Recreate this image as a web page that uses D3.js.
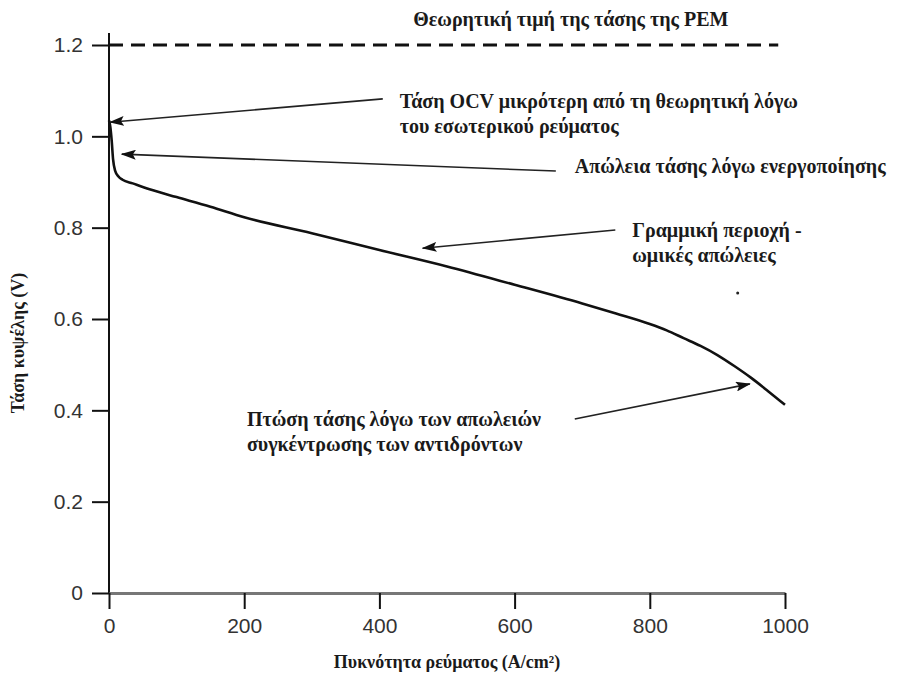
<!DOCTYPE html>
<html>
<head>
<meta charset="utf-8">
<script src="https://cdn.jsdelivr.net/npm/d3@7"></script>
<style>
  body { margin: 0; background: #fff; }
  svg { display: block; }
  .tick text { font-family: "Liberation Sans", Arial, sans-serif; font-size: 21px; fill: #333; }
  .note { font-family: "Liberation Serif", "Times New Roman", serif; font-weight: bold; font-size: 20px; fill: #1a1a1a; }
</style>
</head>
<body>
<svg id="chart" width="899" height="675"></svg>
<script>
// polarization curve
const current = [0, 2, 4, 6, 9, 14, 20, 35, 60, 100, 150, 200, 300, 400, 500, 600, 700, 750, 800, 825, 850, 875, 900, 925, 950, 975, 1000]
const voltage = [1.035, 1.02, 0.99, 0.95, 0.925, 0.912, 0.905, 0.897, 0.884, 0.867, 0.846, 0.823, 0.788, 0.751, 0.715, 0.675, 0.634, 0.612, 0.589, 0.575, 0.558, 0.541, 0.521, 0.497, 0.471, 0.442, 0.412]

const xTicks = [0, 200, 400, 600, 800, 1000]
const yTicks = [0, 0.2, 0.4, 0.6, 0.8, 1.0, 1.2]
const theoreticalVoltage = 1.2
const theoreticalEnd = 990

const xTitle = "Πυκνότητα ρεύματος (A/cm²)"
const yTitle = "Τάση κυψέλης (V)"

// annotations: text lines, text anchor (A/cm², V), arrow tail and tip (A/cm², V)
const noteLines = [
  ["Θεωρητική τιμή της τάσης της PEM"],
  ["Τάση OCV μικρότερη από τη θεωρητική λόγω", "του εσωτερικού ρεύματος"],
  ["Απώλεια τάσης λόγω ενεργοποίησης"],
  ["Γραμμική περιοχή -", "ωμικές απώλειες"],
  ["Πτώση τάσης λόγω των απωλειών", "συγκέντρωσης των αντιδρόντων"]
]
const noteAnchors = [[450, 1.241], [430, 1.062], [689, 0.920], [774, 0.780], [204, 0.366]]
const arrowTails = [null, [405, 1.082], [661, 0.924], [749, 0.795], [689, 0.381]]
const arrowTips = [null, [1.5, 1.031], [19, 0.961], [464, 0.755], [948, 0.458]]
const strayDot = [930, 0.657]

const width = 899
const height = 675
const margins = {left: 109, right: 114, top: 45, bottom: 82}

const svg = d3.select("#chart")

const x = d3.scaleLinear()
  .domain([0, 1000])
  .range([margins.left, width - margins.right])

const y = d3.scaleLinear()
  .domain([0, 1.2])
  .range([height - margins.bottom, margins.top])

const defs = svg.append("defs")
defs.append("marker")
  .attr("id", "head")
  .attr("viewBox", "0 -5 15 10")
  .attr("refX", 14)
  .attr("refY", 0)
  .attr("markerUnits", "userSpaceOnUse")
  .attr("markerWidth", 15)
  .attr("markerHeight", 10)
  .attr("orient", "auto")
  .append("path")
  .attr("d", "M0,-5L15,0L0,5L3,0Z")
  .attr("fill", "#111")

// y axis
const yAxis = svg.append("g")
  .attr("class", "y-axis")
  .attr("transform", `translate(${margins.left},0)`)
  .call(d3.axisLeft(y)
    .tickValues(yTicks)
    .tickSize(17)
    .tickPadding(9)
    .tickFormat(d => d === 0 ? "0" : d3.format(".1f")(d)))
yAxis.select(".domain").remove()
yAxis.selectAll(".tick line").attr("stroke", "#111").attr("stroke-width", 2)

svg.append("line")
  .attr("x1", x(0))
  .attr("x2", x(0))
  .attr("y1", y(1.2) - 12)
  .attr("y2", y(0))
  .attr("stroke", "#111")
  .attr("stroke-width", 2)

// x axis
const xAxis = svg.append("g")
  .attr("class", "x-axis")
  .attr("transform", `translate(0,${y(0)})`)
  .call(d3.axisBottom(x)
    .tickValues(xTicks)
    .tickSize(16)
    .tickPadding(8)
    .tickSizeOuter(0)
    .tickFormat(d3.format("d")))
xAxis.select(".domain").attr("stroke", "#777").attr("stroke-width", 3)
xAxis.selectAll(".tick line").attr("stroke", "#111").attr("stroke-width", 2)
xAxis.selectAll(".tick text").attr("dy", "0.75em")

// theoretical voltage
svg.append("line")
  .attr("x1", x(0))
  .attr("x2", x(theoreticalEnd))
  .attr("y1", y(theoreticalVoltage))
  .attr("y2", y(theoreticalVoltage))
  .attr("stroke", "#111")
  .attr("stroke-width", 3)
  .attr("stroke-dasharray", "14,8")

// polarization curve
const points = current.map((c, i) => [c, voltage[i]])
svg.append("path")
  .datum(points)
  .attr("fill", "none")
  .attr("stroke", "#111")
  .attr("stroke-width", 2.6)
  .attr("stroke-linejoin", "round")
  .attr("d", d3.line()
    .x(d => x(d[0]))
    .y(d => y(d[1]))
    .curve(d3.curveMonotoneX))

// arrows
arrowTails.forEach((tail, i) => {
  if (!tail) return
  const tip = arrowTips[i]
  svg.append("line")
    .attr("x1", x(tail[0]))
    .attr("y1", y(tail[1]))
    .attr("x2", x(tip[0]))
    .attr("y2", y(tip[1]))
    .attr("stroke", "#222")
    .attr("stroke-width", 1.6)
    .attr("marker-end", "url(#head)")
})

// annotation text
noteLines.forEach((lines, i) => {
  const t = svg.append("text")
    .attr("class", "note")
    .attr("x", x(noteAnchors[i][0]))
    .attr("y", y(noteAnchors[i][1]))
  lines.forEach((line, j) => {
    t.append("tspan")
      .attr("x", x(noteAnchors[i][0]))
      .attr("dy", j === 0 ? 0 : 25)
      .text(line)
  })
})

svg.append("circle")
  .attr("cx", x(strayDot[0]))
  .attr("cy", y(strayDot[1]))
  .attr("r", 1.5)
  .attr("fill", "#222")

// axis titles
svg.append("text")
  .attr("class", "note")
  .attr("x", (x(0) + x(1000)) / 2)
  .attr("y", height - 7)
  .attr("text-anchor", "middle")
  .style("font-size", "18px")
  .text(xTitle)

svg.append("text")
  .attr("class", "note")
  .attr("transform", `translate(24,${(y(0) + y(1.2)) / 2 + 24}) rotate(-90)`)
  .attr("text-anchor", "middle")
  .style("font-size", "18px")
  .text(yTitle)
</script>
</body>
</html>
